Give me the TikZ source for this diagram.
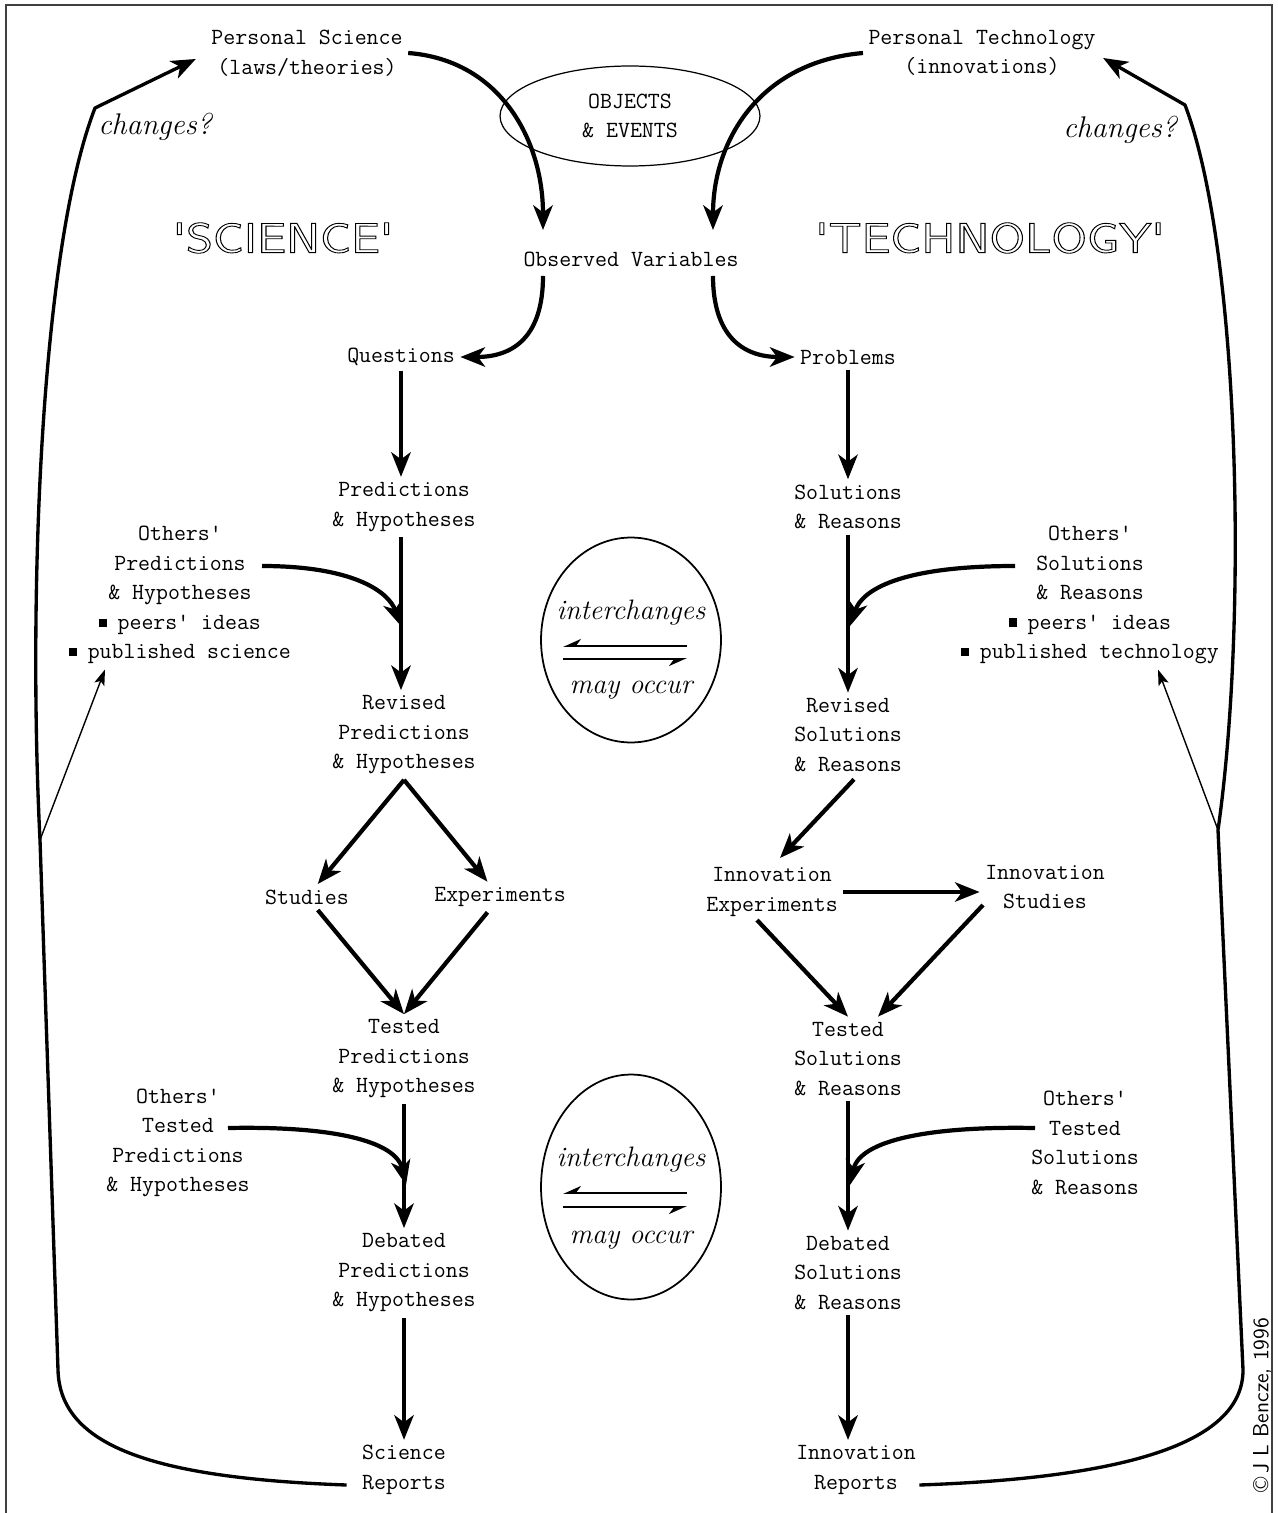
\documentclass[tikz,border=0pt]{standalone}
\usepackage{amsmath,amssymb}
\usetikzlibrary{arrows.meta,calc,shapes.geometric}
\tikzset{
 lbl/.style={font=\ttfamily\fontsize{13.2}{16.8}\selectfont,align=center,inner sep=3pt},
 big/.style={font=\sffamily\fontsize{24}{28}\selectfont,inner sep=0pt},
 chg/.style={font=\itshape\fontsize{17}{20}\selectfont,inner sep=1pt},
 ichg/.style={font=\itshape\fontsize{16}{19}\selectfont,inner sep=1pt},
 ell/.style={draw,ellipse,line width=1pt,inner sep=0pt},
 flow/.style={line width=2.4pt,-{Stealth[length=14pt,width=11pt,inset=4pt]}},
 bigloop/.style={flow,line width=1.9pt,line join=round},
 thinarr/.style={line width=0.8pt,-{Stealth[length=9pt,width=6pt,inset=2pt]}},
 harp/.style={line width=1.1pt},
}
\newcommand{\outl}[1]{\special{pdf:literal direct 1 Tr 0.5 w}#1\special{pdf:literal direct 0 Tr}}
\newcommand{\bul}{\raisebox{0.25ex}{\rule{0.35em}{0.35em}}\hspace{0.45em}}
\begin{document}
\begin{tikzpicture}[x=0.02cm,y=-0.02cm]
\useasboundingbox (0,0) rectangle (1277,1513);
\draw[line width=1.6pt,black!75] (6,1513) -- (6,5) -- (1272,5) -- (1272,1513);

\node[lbl] (ps) at (307,53) {Personal Science\\(laws/theories)};
\node[lbl] (pt) at (982,53) {Personal Technology\\(innovations)};
\node[ell,lbl,line width=0.7pt,minimum width=5.2cm,minimum height=2cm] (oe) at (630,116) {OBJECTS\\\& EVENTS};
\node[big] (sci) at (283,238) {\scalebox{1.22}[1]{\outl{\textquotesingle SCIENCE\textquotesingle}}};
\node[big] (tec) at (990,238) {\scalebox{1.22}[1]{\outl{\textquotesingle TECHNOLOGY\textquotesingle}}};
\node[lbl] (ov) at (631,259) {Observed Variables};
\node[lbl] (q) at (401,357) {Questions};
\node[lbl] (pb) at (848,357) {Problems};
\node[lbl] (pr) at (404,507) {Predictions\\\& Hypotheses};
\node[lbl] (so) at (848,507) {Solutions\\\& Reasons};
\node[lbl] (osp) at (180,595) {Others'\\Predictions\\\& Hypotheses\\\bul peers' ideas\\\bul published science};
\node[lbl] (oss) at (1090,595) {Others'\\Solutions\\\& Reasons\\\bul peers' ideas\\\bul published technology};
\node[lbl] (rpr) at (404,735) {Revised\\Predictions\\\& Hypotheses};
\node[lbl] (rso) at (848,735) {Revised\\Solutions\\\& Reasons};
\node[lbl] (st) at (307,897) {Studies};
\node[lbl] (ex) at (500,897) {Experiments};
\node[lbl] (ie) at (772,892) {Innovation\\Experiments};
\node[lbl] (is) at (1045,887) {Innovation\\Studies};
\node[lbl] (tp) at (404,1059) {Tested\\Predictions\\\& Hypotheses};
\node[lbl] (ts) at (848,1059) {Tested\\Solutions\\\& Reasons};
\node[lbl] (otp) at (178,1143) {Others'\\Tested\\Predictions\\\& Hypotheses};
\node[lbl] (ots) at (1085,1143) {Others'\\Tested\\Solutions\\\& Reasons};
\node[lbl] (dp) at (404,1273) {Debated\\Predictions\\\& Hypotheses};
\node[lbl] (ds) at (848,1273) {Debated\\Solutions\\\& Reasons};
\node[lbl] (sr) at (404,1470) {Science\\Reports};
\node[lbl] (ir) at (856,1470) {Innovation\\Reports};
\node[chg] (chl) at (155,127) {changes?};
\node[chg] (chr) at (1120,130) {changes?};
\node[font=\sffamily\fontsize{12.5}{14}\selectfont,rotate=90] (cr) at (1262,1405) {\textcopyright\,J L Bencze, 1996};

\node[ell,minimum width=3.6cm,minimum height=4.1cm] (ic1) at (631,640) {};
\node[ichg] (ic1a) at (631,613) {interchanges};
\node[ichg] (ic1b) at (631,690) {may occur};
\coordinate (h1a) at ($(ic1)+(-68,6)$);
\coordinate (h1b) at ($(ic1)+(56,6)$);
\coordinate (h1c) at ($(ic1)+(-68,19)$);
\coordinate (h1d) at ($(ic1)+(56,19)$);
\draw[harp,{Stealth[harpoon,swap,length=9pt,width=8pt]}-] (h1a) -- (h1b);
\draw[harp,-{Stealth[harpoon,swap,length=9pt,width=8pt]}] (h1c) -- (h1d);

\node[ell,minimum width=3.6cm,minimum height=4.5cm] (ic2) at (631,1187) {};
\node[ichg] (ic2a) at (631,1160) {interchanges};
\node[ichg] (ic2b) at (631,1240) {may occur};
\coordinate (h2a) at ($(ic2)+(-68,6)$);
\coordinate (h2b) at ($(ic2)+(56,6)$);
\coordinate (h2c) at ($(ic2)+(-68,20)$);
\coordinate (h2d) at ($(ic2)+(56,20)$);
\draw[harp,{Stealth[harpoon,swap,length=9pt,width=8pt]}-] (h2a) -- (h2b);
\draw[harp,-{Stealth[harpoon,swap,length=9pt,width=8pt]}] (h2c) -- (h2d);

\draw[flow] (ps.east) .. controls (500,60) and (543,140) .. ($(ov.north)+(-88,-16)$);
\draw[flow] (pt.west) .. controls (760,62) and (713,140) .. ($(ov.north)+(82,-16)$);
\draw[flow] ($(ov.south)+(-88,4)$) .. controls (543,335) and (515,357) .. (q.east);
\draw[flow] ($(ov.south)+(82,4)$) .. controls (713,335) and (742,357) .. (pb.west);
\draw[flow] (q) -- (q |- pr.north);
\draw[flow] (pb) -- (so);
\draw[flow] (pr.south -| q) -- (rpr.north -| q);
\draw[flow] (so) -- (rso);
\coordinate (jp1) at (401,626);
\coordinate (js1) at (850,626);
\draw[flow] ($(osp.center)+(82,-29)$) .. controls (350,566) and (388,590) .. (jp1);
\draw[flow] ($(oss.center)+(-75,-29)$) .. controls (900,566) and (862,590) .. (js1);
\draw[flow] (rpr.south) -- (st);
\draw[flow] (rpr.south) -- (ex);
\draw[flow] ($(rso.south)+(6,2)$) -- ($(ie.north)+(8,-4)$);
\draw[flow] (ie.east) -- (ie.east -| is.west);
\draw[flow] (st) -- (tp.north);
\draw[flow] (ex) -- (tp.north);
\draw[flow] ($(ie.south)+(-15,-2)$) -- (ts.north);
\draw[flow] ($(is.center)+(-62,18)$) -- ($(ts.north)+(30,0)$);
\draw[flow] (tp) -- (dp);
\draw[flow] (ts) -- (ds);
\coordinate (jp2) at (406,1185);
\coordinate (js2) at (850,1185);
\draw[flow] ($(otp.center)+(50,-15)$) .. controls (330,1126) and (396,1140) .. (jp2);
\draw[flow] ($(ots.center)+(-50,-15)$) .. controls (930,1126) and (860,1140) .. (js2);
\draw[flow] (dp) -- (sr);
\draw[flow] (ds.south) -- (ds.south |- ir.north);

\coordinate (lk) at (40,840);
\coordinate (lt) at (95,108);
\coordinate (rk) at (1218,830);
\coordinate (rt) at (1185,105);
\draw[bigloop] ($(sr.west)+(-10,15)$) .. controls (150,1478) and (60,1445) .. (58,1370) -- (lk) .. controls (28,600) and (40,250) .. (lt) -- ($(ps.west)+(-10,6)$);
\draw[bigloop] ($(ir.east)+(-2,15)$) .. controls (1120,1478) and (1243,1445) .. (1243,1370) -- (rk) .. controls (1248,620) and (1240,250) .. (rt) -- ($(pt.east)+(2,5)$);
\draw[thinarr] (lk) -- ($(osp.south)+(-75,0)$);
\draw[thinarr] (rk) -- ($(oss.south)+(68,0)$);
\end{tikzpicture}
\end{document}
